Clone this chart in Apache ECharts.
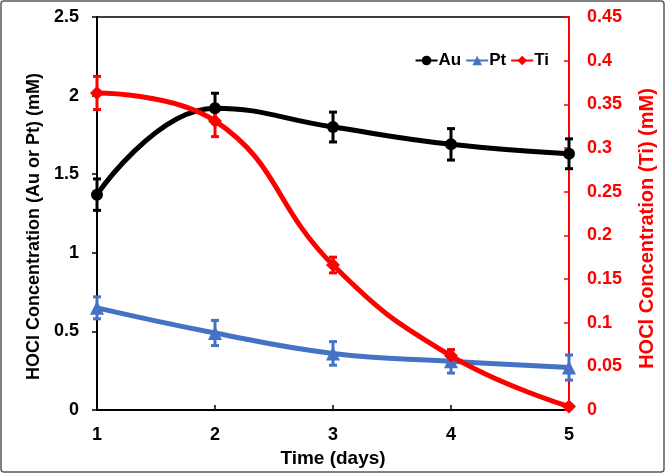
<!DOCTYPE html>
<html>
<head>
<meta charset="utf-8">
<script src="https://cdn.jsdelivr.net/npm/echarts@6/dist/echarts.min.js"></script>
<style>
  html, body { margin: 0; padding: 0; background: #fff; }
  #chart { width: 666px; height: 474px; }
</style>
</head>
<body>
<div id="chart"></div>
<script>
var days = [1, 2, 3, 4, 5];
var xTicks = ['1', '2', '3', '4', '5'];
var au = [1.37, 1.92, 1.80, 1.69, 1.63];
var auErr = [0.1, 0.095, 0.095, 0.1, 0.095];
var pt = [0.65, 0.49, 0.36, 0.31, 0.27];
var ptErr = [0.07, 0.08, 0.075, 0.075, 0.08];
var ti = [0.363, 0.331, 0.166, 0.062, 0.004];
var tiErr = [0.019, 0.018, 0.009, 0.007, 0.002];

var BLACK = '#000000', BLUE = '#4472C4', RED = '#FF0000';
var FONT = 'Liberation Sans, Arial, sans-serif';

function pairs(vals) {
  return days.map(function (d, i) { return [d, vals[i]]; });
}
function errData(vals, errs) {
  return days.map(function (d, i) { return [d, vals[i] - errs[i], vals[i] + errs[i]]; });
}
function errorBars(name, vals, errs, color, axisIdx) {
  return {
    type: 'custom',
    name: name + ' err',
    yAxisIndex: axisIdx,
    z: 3,
    silent: true,
    data: errData(vals, errs),
    renderItem: function (params, api) {
      var lo = api.coord([api.value(0), api.value(1)]);
      var hi = api.coord([api.value(0), api.value(2)]);
      var w = 4;
      var st = { stroke: color, lineWidth: 3 };
      return {
        type: 'group',
        children: [
          { type: 'line', shape: { x1: lo[0], y1: lo[1], x2: hi[0], y2: hi[1] }, style: st },
          { type: 'line', shape: { x1: lo[0] - w, y1: lo[1], x2: lo[0] + w, y2: lo[1] }, style: st },
          { type: 'line', shape: { x1: hi[0] - w, y1: hi[1], x2: hi[0] + w, y2: hi[1] }, style: st }
        ]
      };
    }
  };
}
function lineSeries(name, vals, color, symbol, size, axisIdx) {
  return {
    type: 'line',
    name: name,
    yAxisIndex: axisIdx,
    data: pairs(vals),
    smooth: 0.45,
    symbol: symbol,
    symbolSize: size,
    lineStyle: { color: color, width: 5 },
    itemStyle: { color: color },
    z: 4
  };
}

var chart = echarts.init(document.getElementById('chart'));
chart.setOption({
  animation: false,
  backgroundColor: '#fff',
  textStyle: { fontFamily: FONT },
  graphic: [{
    type: 'rect',
    shape: { x: 1, y: 1, width: 663, height: 471, r: 3 },
    style: { fill: 'none', stroke: '#595959', lineWidth: 1.5 },
    silent: true
  }],
  grid: {
    left: 97, right: 97, top: 17, bottom: 64,
    show: true, borderColor: BLACK, borderWidth: 1.5, backgroundColor: 'transparent'
  },
  legend: {
    data: ['Au', 'Pt', 'Ti'],
    right: 112, top: 47,
    itemWidth: 22, itemHeight: 12, itemGap: 4,
    textStyle: { fontFamily: FONT, fontWeight: 'bold', fontSize: 17, color: BLACK, padding: [0, 0, 0, -4] }
  },
  xAxis: {
    type: 'value', min: 1, max: 5, interval: 1,
    name: 'Time (days)', nameLocation: 'middle', nameGap: 38,
    nameTextStyle: { fontFamily: FONT, fontWeight: 'bold', fontSize: 19, color: BLACK },
    axisLine: { lineStyle: { color: BLACK, width: 2 } },
    axisTick: { inside: true, length: 5, lineStyle: { color: BLACK, width: 1.5 } },
    axisLabel: {
      fontFamily: FONT, fontWeight: 'bold', fontSize: 18, color: BLACK, margin: 16,
      formatter: function (v) { return xTicks[v - 1]; }
    },
    splitLine: { show: false }
  },
  yAxis: [{
    type: 'value', min: 0, max: 2.5, interval: 0.5,
    name: 'HOCl Concentration (Au or Pt) (mM)', nameLocation: 'middle', nameGap: 52, nameRotate: 90,
    nameTextStyle: { fontFamily: FONT, fontWeight: 'bold', fontSize: 18, color: BLACK, padding: [0, 26, 0, 0] },
    axisLine: { show: true, lineStyle: { color: BLACK, width: 2 } },
    axisTick: { show: true, length: 5, lineStyle: { color: BLACK, width: 1.5 } },
    axisLabel: { fontFamily: FONT, fontWeight: 'bold', fontSize: 18, color: BLACK, margin: 18 },
    splitLine: { show: false }
  }, {
    type: 'value', min: 0, max: 0.45, interval: 0.05, position: 'right',
    name: 'HOCl Concentration (Ti) (mM)', nameLocation: 'middle', nameGap: 68, nameRotate: 90,
    nameTextStyle: { fontFamily: FONT, fontWeight: 'bold', fontSize: 20, color: RED, padding: [0, 30, 0, 0] },
    axisLine: { show: true, lineStyle: { color: RED, width: 2 } },
    axisTick: { show: true, inside: true, length: 5, lineStyle: { color: RED, width: 1.5 } },
    axisLabel: {
      fontFamily: FONT, fontWeight: 'bold', fontSize: 18, color: RED, margin: 18,
      formatter: function (v) { return v === 0 ? '0' : String(+v.toFixed(2)); }
    },
    splitLine: { show: false }
  }],
  series: [
    lineSeries('Au', au, BLACK, 'circle', 12, 0),
    lineSeries('Pt', pt, BLUE, 'triangle', 14, 0),
    lineSeries('Ti', ti, RED, 'diamond', 14, 1),
    errorBars('Au', au, auErr, BLACK, 0),
    errorBars('Pt', pt, ptErr, BLUE, 0),
    errorBars('Ti', ti, tiErr, RED, 1)
  ]
});
</script>
</body>
</html>
